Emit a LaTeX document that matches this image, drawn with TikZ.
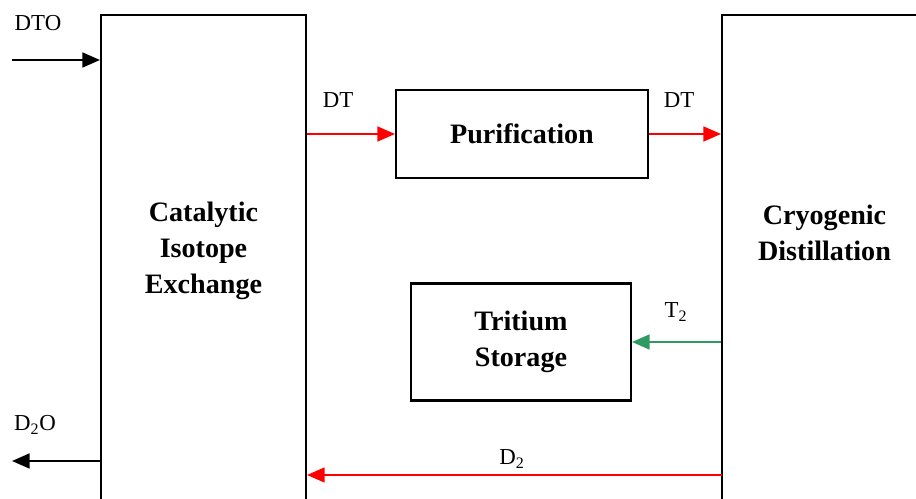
\documentclass[tikz,border=0pt]{standalone}
\usepackage{fontspec}
\setmainfont{Liberation Serif}
\usetikzlibrary{arrows.meta}
\definecolor{Flow}{HTML}{FF0000}
\definecolor{Tgreen}{HTML}{2E9A62}
\begin{document}
\begin{tikzpicture}[x=0.02cm,y=-0.02cm,
        unit/.style={draw,line width=1.2pt,inner sep=0pt},
        unitname/.style={align=center,font=\fontsize{16}{20.5}\selectfont\bfseries},
        lbl/.style={font=\fontsize{13}{15}\selectfont,inner sep=0pt},
        arr/.style={-{Triangle[length=10pt,width=8.5pt]},line width=1.1pt},
        redarr/.style={arr,Flow}
      ]
        \clip (0,0) rectangle (916,499);
        \node[unit,minimum width=4.1cm,minimum height=10.3cm] (cie) at (203.5,272.5) {};
        \node[unitname] (cietext) at (203.5,251) {Catalytic\\Isotope\\Exchange};
        \node[unit,minimum width=4.1cm,minimum height=10.3cm] (cd) at (824.5,272.5) {};
        \node[unitname] (cdtext) at (824.5,233) {Cryogenic\\Distillation};
        \node[unit,unitname,minimum width=5.04cm,minimum height=1.76cm] (pur) at (522,134) {Purification};
        \node[unit,unitname,minimum width=4.4cm,minimum height=2.34cm] (ts) at (521,342) {Tritium\\Storage};
        \coordinate (dtoin) at (12,60);
        \coordinate (dout) at (12,461);
        \coordinate (dback) at (722,475);
        \draw[arr] (dtoin) -- (dtoin -| cie.west);
        \draw[arr] (dout -| cie.west) -- (dout);
        \draw[redarr] (cie.east |- pur.west) -- (pur.west);
        \draw[redarr] (pur.east) -- (cd.west |- pur.east);
        \draw[arr,Tgreen] (cd.west |- ts.east) -- (ts.east);
        \draw[redarr,line width=.8pt] (dback) -- (dback -| cie.east);
        \node[lbl] (dtolbl) at (38,23) {DTO};
        \node[lbl] (dtin) at (338,100) {DT};
        \node[lbl] (dtout) at (679,100) {DT};
        \node[lbl] (t2lbl) at (676,312) {T\textsubscript{2}};
        \node[lbl] (d2olbl) at (35,425) {D\textsubscript{2}O};
        \node[lbl] (d2lbl) at (512,459) {D\textsubscript{2}};
      \end{tikzpicture}
\end{document}
